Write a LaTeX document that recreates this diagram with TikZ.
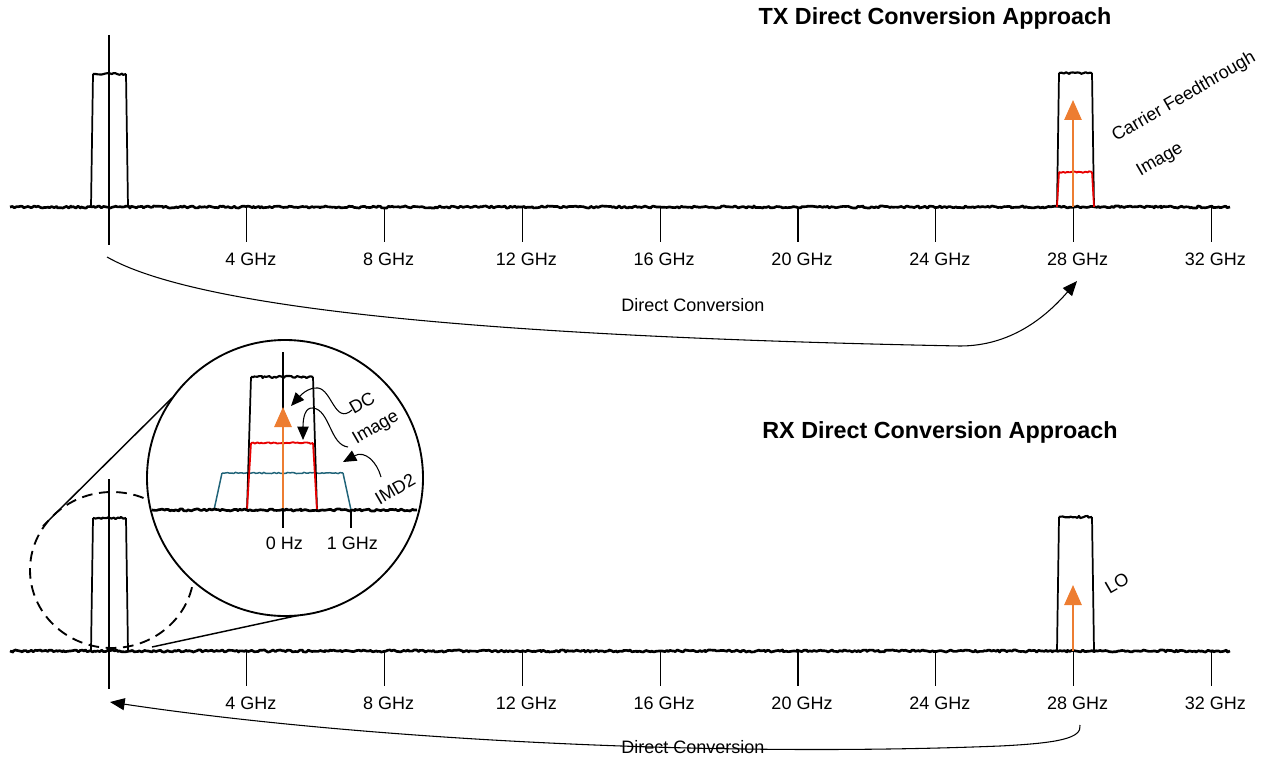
\documentclass[tikz,border=0pt]{standalone}
\usepackage{fontspec}
\setmainfont{Liberation Sans}
\usepackage{xcolor}
\usepackage{tikz}
\usetikzlibrary{arrows.meta,positioning,decorations.pathmorphing}

\definecolor{loorange}{RGB}{237,125,49}
\definecolor{imgred}{RGB}{232,0,0}
\definecolor{imdteal}{RGB}{31,99,120}

\begin{document}
\begin{tikzpicture}[
  x=0.75pt, y=-0.75pt, font=\fontsize{13.5}{16}\selectfont,
  noisy/.style={line width=2pt, line join=round, decorate, decoration={random steps, segment length=1.5pt, amplitude=0.8pt}},
  band/.style={line width=1.3pt},
  zero/.style={line width=1pt},
  tick/.style={line width=1pt},
  carrier/.style={draw=loorange, line width=1.3pt, -{Triangle[length=15pt, width=13pt]}},
  conn/.style={line width=0.8pt, -{Triangle[length=11pt, width=9pt]}},
  pointer/.style={line width=0.8pt, -{Triangle[length=10pt, width=8.5pt]}},
  title/.style={font=\fontsize{17.5}{20}\selectfont\bfseries},
  slant/.style={rotate=30}
]
\pgfmathsetseed{11}
\useasboundingbox (0,0) rectangle (1270,763);

% spectrum axes, shared by TX and RX
\foreach \nm/\yo in {tx/0, rx/444} {
  \begin{scope}[shift={(0,\yo)}]
    \draw[zero] (109,35) -- (109,245);
    \draw[band] (91,207) -- (93,74) (126,74) -- (128,207);
    \draw[noisy, line width=1.6pt] (93,74) -- (126,74);
    \draw[band] (1057,207) -- (1059,73) (1092,73) -- (1094,207);
    \draw[noisy, line width=1.6pt] (1059,73) -- (1092,73);
    \foreach \k in {1,...,8} {
      \pgfmathsetmacro\tx{109+137.8*\k}
      \pgfmathtruncatemacro\f{4*\k}
      \coordinate (\nm tick\k) at (\tx,207);
      \draw[tick] (\nm tick\k) -- ++(0,35) node[below=4pt, xshift=3pt] (\nm lab\k) {\f\ GHz};
    }
    \draw[noisy] (10,207) -- (1230,207);
  \end{scope}
}

% TX
\node[title] (txtitle) at (935,18) {TX Direct Conversion Approach};
\draw[band, imgred] (1057,207) -- (1059,172) (1092,172) -- (1094,207);
\draw[noisy, imgred, line width=1.4pt, decoration={amplitude=0.6pt}] (1059,172) -- (1092,172);
\coordinate (txlo) at (1073,207);
\draw[carrier] (txlo) -- ++(0,-107);
\node[slant] (cft) at (1184,97) {Carrier Feedthrough};
\node[slant] (tximg) at (1160,160) {Image};
\coordinate (txa) at (107,257);
\coordinate (txb) at (1077,281);
\draw[conn] (txa) .. controls (200,310) and (500,337) .. (960,346)
  .. controls (1010,346) and (1045,318) .. (txb);
\node (txconv) at (693,305) {Direct Conversion};

% RX
\node[title] (rxtitle) at (940,432) {RX Direct Conversion Approach};
\coordinate (rxlo) at (1073,651);
\draw[carrier] (rxlo) -- ++(0,-66);
\node[slant] (lo) at (1117,583) {LO};
\coordinate (rxa) at (1080,725);
\coordinate (rxb) at (110,702);
\draw[conn] (rxa) .. controls (1082,738) and (1060,743) .. (1000,746)
  .. controls (700,758) and (350,738) .. (rxb);
\node (rxconv) at (693,747) {Direct Conversion};

% magnifier
\draw[line width=1.4pt, dash pattern=on 8pt off 5pt] (112,570) ellipse [x radius=82, y radius=78];
\coordinate (ela) at (43,526);
\coordinate (lna) at (172,398);
\coordinate (elb) at (152,647);
\coordinate (lnb) at (300,615);
\draw[line width=1.1pt] (ela) -- (lna) (elb) -- (lnb);
\draw[line width=1.4pt, fill=white] (285,478) circle [radius=138];

\draw[imdteal, line width=1.1pt] (214,510) -- (222,473) (343,473) -- (351,510);
\draw[noisy, imdteal, line width=1.1pt, decoration={amplitude=0.5pt}] (222,473) -- (343,473);
\draw[band] (247,510) -- (251,377) (313,377) -- (317,510);
\draw[noisy, line width=1.6pt] (251,377) -- (313,377);
\draw[band, imgred] (247,510) -- (251,443) (313,443) -- (317,510);
\draw[noisy, imgred, line width=1.4pt, decoration={amplitude=0.6pt}] (251,443) -- (313,443);
\draw[zero] (283,352) -- (283,512);
\coordinate (dclo) at (283,510);
\draw[carrier] (dclo) -- ++(0,-103);
\draw[tick] (283,510) -- (283,528) node[below=3pt, xshift=1pt] (zhz) {0 Hz};
\draw[tick] (351,510) -- (351,528) node[below=3pt, xshift=1pt] (ghz) {1 GHz};
\draw[noisy] (152,510) -- (417,510);

\node[slant] (dc) at (362,403) {DC};
\node[slant] (zimg) at (376,428) {Image};
\node[slant] (imd) at (395,489) {IMD2};
\coordinate (dca) at (352,410);
\coordinate (dcb) at (291,406);
\draw[pointer] (dca) .. controls (335,425) and (332,390) .. (318,388)
  .. controls (308,387) and (300,396) .. (dcb);
\coordinate (ima) at (348,447);
\coordinate (imb) at (303,440);
\draw[pointer] (ima) .. controls (330,445) and (330,410) .. (313,408)
  .. controls (305,407) and (303,418) .. (imb);
\coordinate (mda) at (381,477);
\coordinate (mdb) at (343,462);
\draw[pointer] (mda) .. controls (377,462) and (365,450) .. (mdb);
\end{tikzpicture}
\end{document}
